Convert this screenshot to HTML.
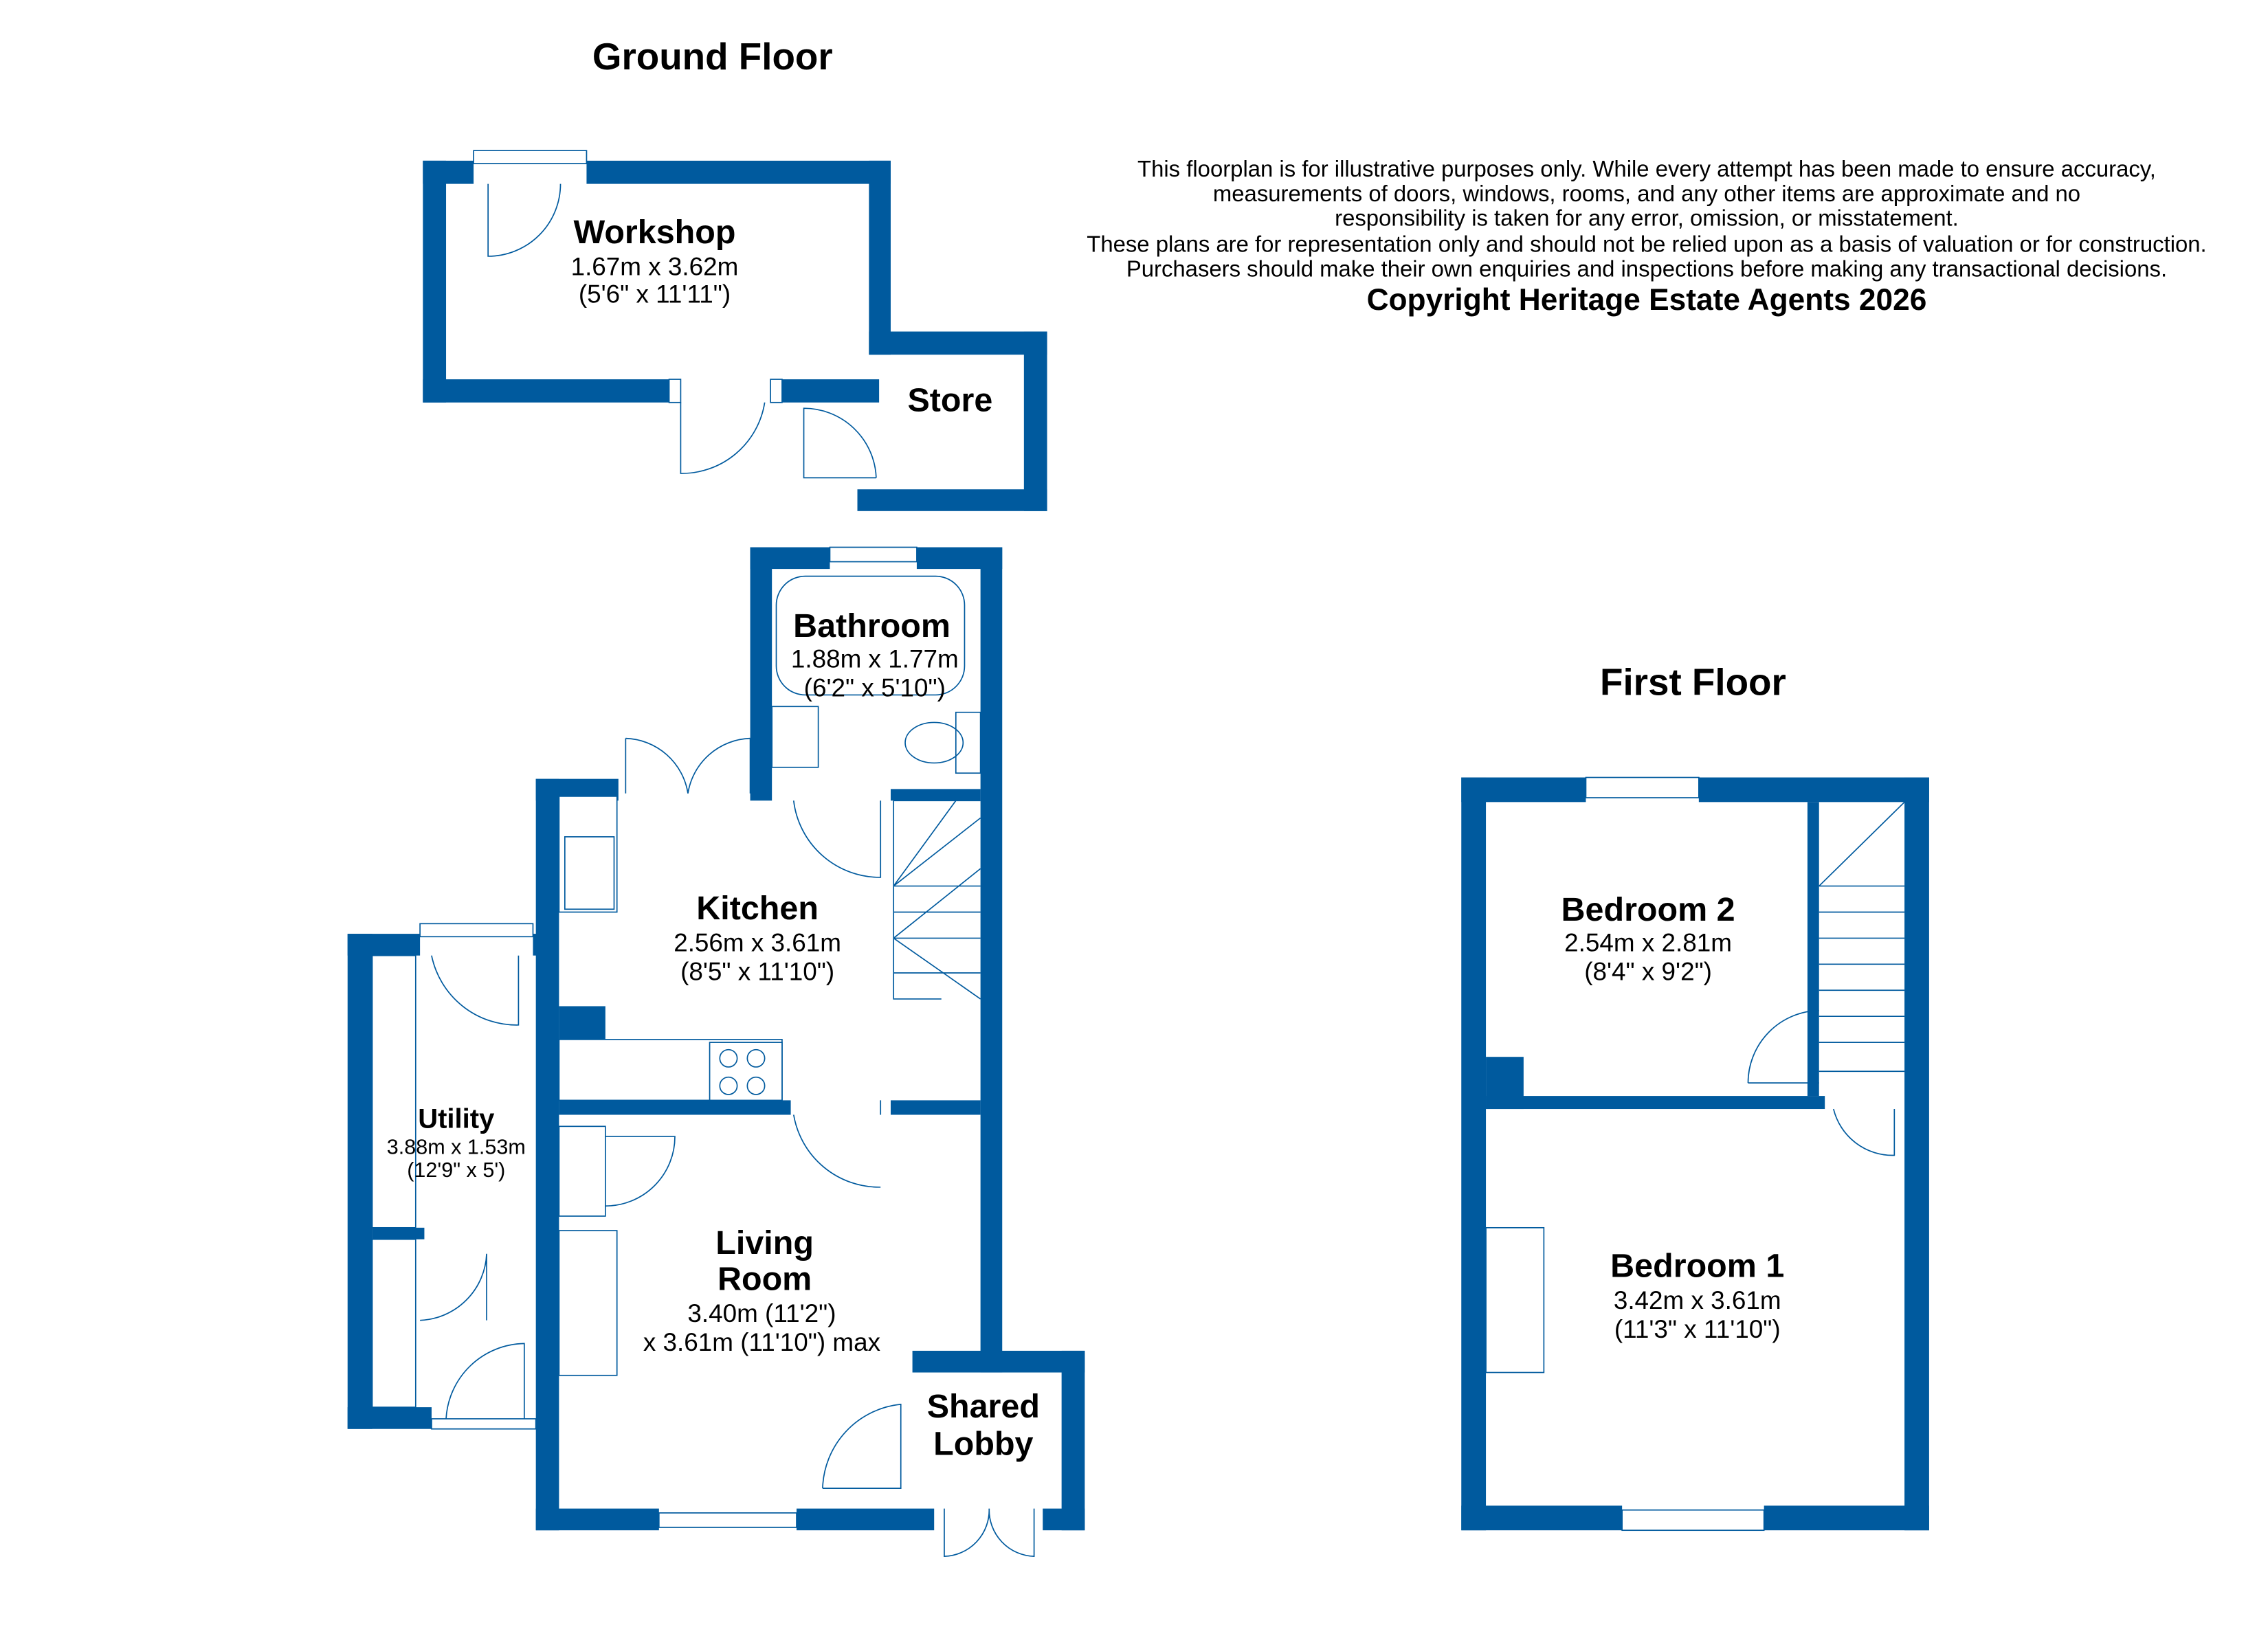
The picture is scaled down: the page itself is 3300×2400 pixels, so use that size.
<!DOCTYPE html>
<html><head><meta charset="utf-8"><style>
html,body{margin:0;padding:0;background:#fff;width:3300px;height:2400px;overflow:hidden}
svg{display:block}
text{font-family:"Liberation Sans",Arial,sans-serif;fill:#000}
.b{font-weight:bold}
.w{fill:#005a9e}
.l{fill:none;stroke:#005a9e;stroke-width:0.8}
.wi{fill:#fff;stroke:#005a9e;stroke-width:0.8}
</style></head><body>
<svg width="3300" height="2400" viewBox="0 0 1566 1139" preserveAspectRatio="none">
<text x="492" y="48" text-anchor="middle" class="b" font-size="26">Ground Floor</text>
<text x="1169" y="480" text-anchor="middle" class="b" font-size="26">First Floor</text>
<g font-size="15.6" text-anchor="middle">
<text x="1137" y="122">This floorplan is for illustrative purposes only. While every attempt has been made to ensure accuracy,</text>
<text x="1137" y="139">measurements of doors, windows, rooms, and any other items are approximate and no</text>
<text x="1137" y="156">responsibility is taken for any error, omission, or misstatement.</text>
<text x="1137" y="174">These plans are for representation only and should not be relied upon as a basis of valuation or for construction.</text>
<text x="1137" y="191">Purchasers should make their own enquiries and inspections before making any transactional decisions.</text>
</g>
<text x="1137" y="214" text-anchor="middle" class="b" font-size="21">Copyright Heritage Estate Agents 2026</text>

<rect class="w" x="292" y="111" width="35" height="16"/>
<rect class="w" x="405" y="111" width="210" height="16"/>
<rect class="w" x="292" y="111" width="16" height="167"/>
<rect class="w" x="292" y="262" width="170" height="16"/>
<rect class="w" x="540" y="262" width="67" height="16"/>
<rect class="w" x="600" y="111" width="15" height="134"/>
<rect class="wi" x="327" y="104" width="78" height="9"/>
<path class="l" d="M337 127 V177 A50 50 0 0 0 387 127"/>
<path class="l" d="M470 278 V327 A58 58 0 0 0 528 278"/>
<rect class="wi" x="462" y="262" width="8" height="16"/><rect class="wi" x="532" y="262" width="8" height="16"/>
<rect class="w" x="600" y="229" width="123" height="16"/>
<rect class="w" x="707" y="229" width="16" height="124"/>
<rect class="w" x="592" y="338" width="131" height="15"/>
<path class="l" d="M605 330 H555 V282 A50 50 0 0 1 605 330"/>
<text x="452" y="168" text-anchor="middle" class="b" font-size="23">Workshop</text>
<text x="452" y="190" text-anchor="middle" font-size="17.5">1.67m x 3.62m</text>
<text x="452" y="209" text-anchor="middle" font-size="17.5">(5'6" x 11'11")</text>
<text x="656" y="284" text-anchor="middle" class="b" font-size="23">Store</text>

<rect class="w" x="518" y="378" width="55" height="15"/>
<rect class="w" x="633" y="378" width="59" height="15"/>
<rect class="wi" x="573" y="378" width="60" height="10"/>
<rect class="w" x="518" y="378" width="15" height="175"/>
<rect class="w" x="677" y="378" width="15" height="570"/>
<rect class="w" x="615" y="545" width="62" height="8"/>
<rect class="w" x="370" y="538" width="57" height="15"/>
<rect class="w" x="370" y="538" width="16" height="519"/>
<rect class="w" x="386" y="695" width="32" height="23"/>
<rect class="w" x="386" y="760" width="160" height="10"/>
<rect class="w" x="615" y="760" width="62" height="10"/>
<rect class="w" x="370" y="1042" width="85" height="15"/>
<rect class="w" x="550" y="1042" width="95" height="15"/>
<rect class="wi" x="455" y="1045" width="95" height="10"/>
<rect class="w" x="630" y="933" width="119" height="15"/>
<rect class="w" x="733" y="933" width="16" height="124"/>
<rect class="w" x="720" y="1042" width="29" height="15"/>
<rect class="w" x="240" y="645" width="50" height="15"/>
<rect class="w" x="368" y="645" width="14" height="15"/>
<rect class="wi" x="290" y="638" width="78" height="9"/>
<rect class="w" x="240" y="645" width="17" height="342"/>
<rect class="w" x="240" y="972" width="58" height="15"/>
<rect class="wi" x="298" y="980" width="72" height="7"/>
<rect class="w" x="257" y="848" width="36" height="8"/>
<rect class="wi" x="257" y="660" width="30" height="188"/>
<rect class="wi" x="257" y="856" width="30" height="116"/>
<path class="l" d="M358 660 V708 A60 60 0 0 1 298 660"/>
<path class="l" d="M290 912 A48 48 0 0 0 336 866 M336 866 V912"/>
<path class="l" d="M308 980 A55 55 0 0 1 362 928 V980"/>
<rect class="wi" x="536" y="398" width="130" height="82" rx="20"/>
<rect class="wi" x="533" y="488" width="32" height="42"/>
<rect class="wi" x="660" y="492" width="17" height="42"/>
<ellipse class="l" cx="645" cy="513" rx="20" ry="14"/>
<rect class="wi" x="386" y="550" width="40" height="80"/>
<rect class="wi" x="390" y="578" width="34" height="50"/>
<rect class="wi" x="386" y="718" width="154" height="42"/>
<rect class="wi" x="490" y="720" width="50" height="40"/>
<circle class="l" cx="503" cy="731" r="6"/><circle class="l" cx="522" cy="731" r="6"/>
<circle class="l" cx="503" cy="750" r="6"/><circle class="l" cx="522" cy="750" r="6"/>
<rect class="wi" x="386" y="778" width="32" height="62"/>
<rect class="wi" x="386" y="850" width="40" height="100"/>
<path class="l" d="M432 510 V548 M432 510 A45 45 0 0 1 475 548 M518 510 V548 M518 510 A45 45 0 0 0 475 548"/>
<path class="l" d="M548 553 A60 60 0 0 0 608 606 V553"/>
<path class="l" d="M548 770 A60 60 0 0 0 608 820 M608 770 V760"/>
<path class="l" d="M418 833 A48 48 0 0 0 466 785 H418"/>
<path class="l" d="M568 1028 A60 60 0 0 1 622 970 V1028 H568"/>
<path class="l" d="M652 1042 V1075 A32 32 0 0 0 683 1042 M714 1042 V1075 A32 32 0 0 1 683 1042"/>
<path class="l" d="M617 553 H677 M617 553 V690 L650 690 M617 612 L660 553 M617 612 L677 565 M617 648 L677 600 M617 612 H677 M617 630 H677 M617 648 H677 M617 672 H677 M617 648 L677 690"/>
<text x="602" y="440" text-anchor="middle" class="b" font-size="23">Bathroom</text>
<text x="604" y="461" text-anchor="middle" font-size="17.5">1.88m x 1.77m</text>
<text x="604" y="481" text-anchor="middle" font-size="17.5">(6'2" x 5'10")</text>
<text x="523" y="635" text-anchor="middle" class="b" font-size="23">Kitchen</text>
<text x="523" y="657" text-anchor="middle" font-size="17.5">2.56m x 3.61m</text>
<text x="523" y="677" text-anchor="middle" font-size="17.5">(8'5" x 11'10")</text>
<text x="315" y="779" text-anchor="middle" class="b" font-size="19">Utility</text>
<text x="315" y="797" text-anchor="middle" font-size="14.5">3.88m x 1.53m</text>
<text x="315" y="813" text-anchor="middle" font-size="14.5">(12'9" x 5')</text>
<text x="528" y="866" text-anchor="middle" class="b" font-size="23">Living</text>
<text x="528" y="891" text-anchor="middle" class="b" font-size="23">Room</text>
<text x="526" y="913" text-anchor="middle" font-size="17.5">3.40m (11'2")</text>
<text x="526" y="933" text-anchor="middle" font-size="17.5">x 3.61m (11'10") max</text>
<text x="679" y="979" text-anchor="middle" class="b" font-size="23">Shared</text>
<text x="679" y="1005" text-anchor="middle" class="b" font-size="23">Lobby</text>

<rect class="w" x="1009" y="537" width="86" height="17"/>
<rect class="w" x="1173" y="537" width="159" height="17"/>
<rect class="wi" x="1095" y="537" width="78" height="14"/>
<rect class="w" x="1009" y="537" width="17" height="520"/>
<rect class="w" x="1315" y="537" width="17" height="520"/>
<rect class="w" x="1009" y="1040" width="111" height="17"/>
<rect class="w" x="1218" y="1040" width="114" height="17"/>
<rect class="wi" x="1120" y="1043" width="98" height="14"/>
<rect class="w" x="1026" y="757" width="234" height="9"/>
<rect class="w" x="1026" y="730" width="26" height="36"/>
<rect class="w" x="1248" y="554" width="8" height="203"/>
<path class="l" d="M1256 612 H1315 M1256 612 L1315 554 M1256 630 H1315 M1256 648 H1315 M1256 666 H1315 M1256 684 H1315 M1256 702 H1315 M1256 720 H1315 M1256 740 H1315"/>
<path class="l" d="M1207 748 A50 50 0 0 1 1256 698 M1207 748 H1256"/>
<path class="l" d="M1266 766 A42 42 0 0 0 1308 798 V766"/>
<rect class="wi" x="1026" y="848" width="40" height="100"/>
<text x="1138" y="636" text-anchor="middle" class="b" font-size="23">Bedroom 2</text>
<text x="1138" y="657" text-anchor="middle" font-size="17.5">2.54m x 2.81m</text>
<text x="1138" y="677" text-anchor="middle" font-size="17.5">(8'4" x 9'2")</text>
<text x="1172" y="882" text-anchor="middle" class="b" font-size="23">Bedroom 1</text>
<text x="1172" y="904" text-anchor="middle" font-size="17.5">3.42m x 3.61m</text>
<text x="1172" y="924" text-anchor="middle" font-size="17.5">(11'3" x 11'10")</text>
</svg>
</body></html>
